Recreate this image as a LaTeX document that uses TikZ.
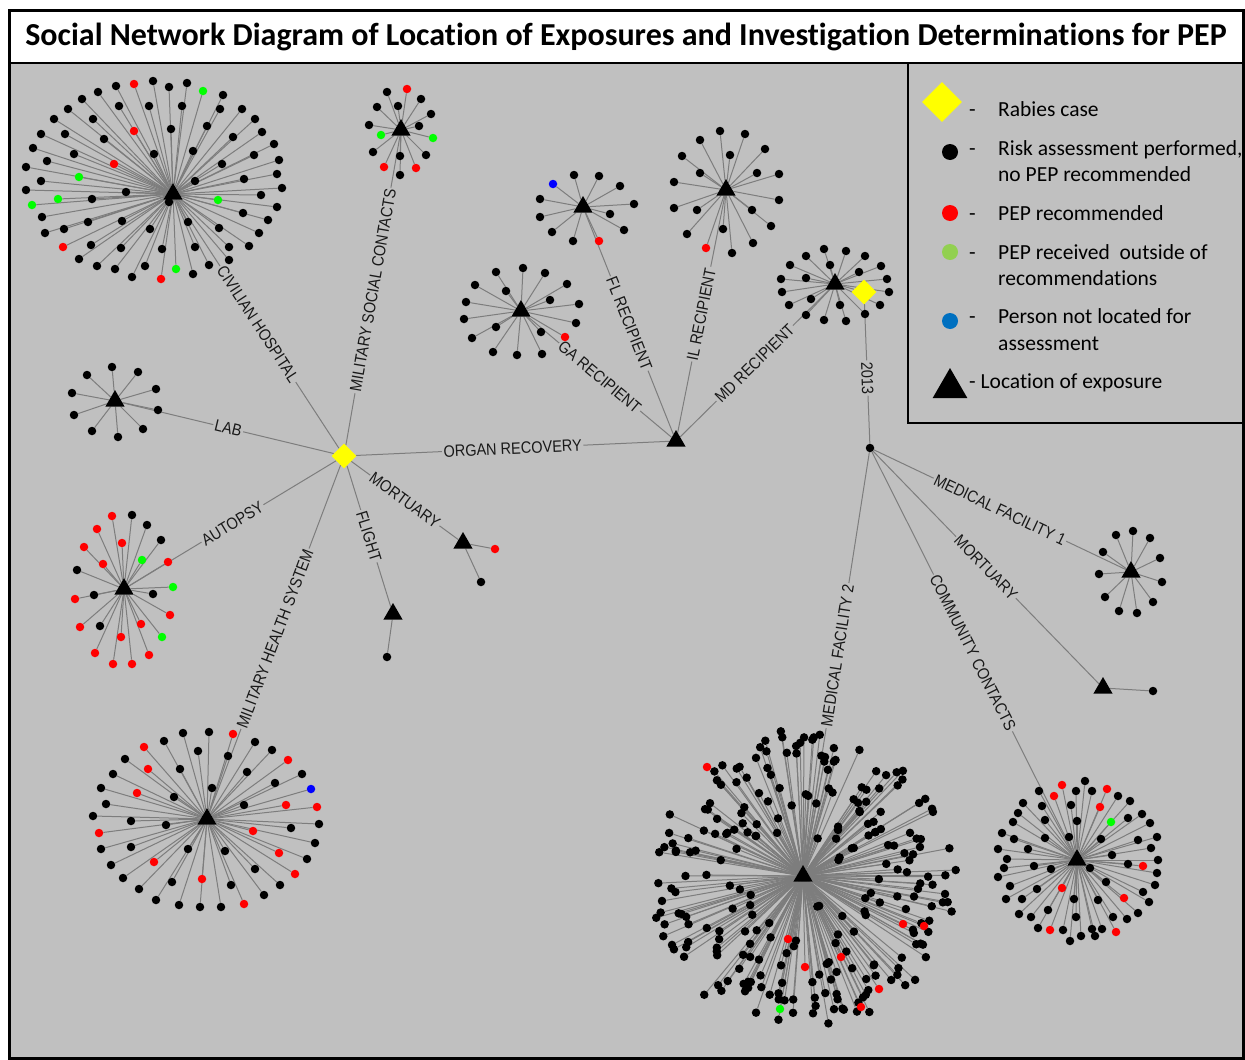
\documentclass[tikz,border=0pt]{standalone}
\usepackage{fontspec}
\setmainfont{Carlito}[Ligatures=NoCommon]
\newfontfamily\lblfont[FakeStretch=0.88]{Liberation Sans}
\usetikzlibrary{shapes.geometric}
\pgfdeclarelayer{background}
\pgfdeclarelayer{edges}
\pgfsetlayers{background,edges,main}
\definecolor{bggray}{RGB}{192,192,192}
\definecolor{spk}{RGB}{125,125,125}
\definecolor{lblc}{RGB}{25,25,25}
\definecolor{dk}{RGB}{0,0,0}
\definecolor{dr}{RGB}{255,0,0}
\definecolor{dg}{RGB}{0,255,0}
\definecolor{db}{RGB}{0,0,255}
\definecolor{lgreen}{RGB}{146,208,80}
\definecolor{lblue}{RGB}{0,112,192}
\definecolor{ryellow}{RGB}{255,255,0}
\tikzset{
  dot/.style={circle, inner sep=0pt, minimum size=8.5pt, fill=#1},
  hubtri/.style={regular polygon, regular polygon sides=3, fill=black, inner sep=0pt, minimum size=22pt},
  rabies/.style={diamond, fill=ryellow, inner sep=0pt, minimum size=25pt},
  spoke/.style={draw=spk, line width=1pt},
  link/.style={draw=spk, line width=1pt},
  lbl/.style={sloped, pos=0.5, fill=bggray, inner sep=1.5pt, text=lblc, font=\lblfont\fontsize{16.5}{16.5}\selectfont},
  legtxt/.style={anchor=base west, inner sep=0pt, font=\fontsize{21.5}{21.5}\selectfont},
}
\newcommand\mkcluster[2]{%
  \foreach \x/\y/\c [count=\i] in {#2} {
    \node[dot=d\c] (#1\i) at (\x,\y) {};
    \xdef\lastcount{\i}%
  }%
  \expandafter\xdef\csname cnt#1\endcsname{\lastcount}%
}
\begin{document}
\begin{tikzpicture}[x=1pt, y=-1pt]
\useasboundingbox (0,0) rectangle (1245,1060);
\begin{pgfonlayer}{background}
  \fill[white] (9,10) rectangle (1243,63);
  \fill[bggray] (9,63) rectangle (1243,1058);
\end{pgfonlayer}

% title
\node[font=\bfseries\fontsize{32}{32}\selectfont, inner sep=0pt] (title) at (626,37) {Social Network Diagram of Location of Exposures and Investigation Determinations for PEP};

% main nodes
\node[rabies] (D) at (344,456) {};
\node[hubtri] (CH) at (173,194) {};
\node[hubtri] (MSC) at (401,130) {};
\node[hubtri] (LAB) at (115,401) {};
\node[hubtri] (AUT) at (124,589) {};
\node[hubtri] (MHS) at (207,819) {};
\node[hubtri] (FLT) at (393,614) {};
\node[hubtri] (MOR1) at (463,543) {};
\node[hubtri] (ORG) at (676,441) {};
\node[hubtri] (GA) at (521,311) {};
\node[hubtri] (FL) at (583,207) {};
\node[hubtri] (IL) at (726,190) {};
\node[hubtri] (MD) at (835,284) {};
\node[rabies] (R2) at (864,292) {};
\node[dot=dk] (Y13) at (870,448) {};
\node[hubtri] (MF1) at (1131,572) {};
\node[hubtri] (MOR2) at (1103,688) {};
\node[hubtri] (CC) at (1077,860) {};

% small leaves
\mkcluster{ma}{495/549/r, 481/582/k}
\mkcluster{fa}{387/657/k}
\mkcluster{mb}{1153/691/k}

% civilian hospital
\mkcluster{ch}{116/86/k, 134/84/r, 153/81/k, 169/87/k, 187/83/k, 203/91/g, 223/95/k, 242/109/k, 255/119/k, 262/132/k, 274/144/k, 279/160/k, 277/174/k, 282/188/k, 277/207/k, 268/220/k, 259/233/k, 249/246/k, 229/260/k, 209/265/k, 193/274/k, 176/269/g, 161/279/r, 132/277/k, 115/269/k, 97/266/k, 79/259/k, 63/247/r, 45/233/k, 42/217/k, 32/205/g, 26/190/k, 41/181/k, 26/167/k, 33/148/k, 41/134/k, 54/119/k, 68/109/k, 82/99/k, 98/92/k, 119/106/k, 149/106/k, 182/106/k, 220/109/k, 207/126/k, 134/131/r, 171/129/k, 233/137/k, 254/155/k, 193/151/k, 154/154/k, 93/119/k, 65/134/k, 104/139/k, 74/154/k, 47/161/k, 114/164/r, 79/177/g, 222/164/k, 244/179/k, 195/181/k, 261/195/k, 126/192/k, 58/199/g, 92/199/k, 218/200/g, 169/202/k, 243/213/k, 188/222/k, 122/221/k, 88/222/k, 64/229/k, 150/229/k, 219/228/k, 229/247/k, 195/247/k, 162/249/k, 121/248/k, 91/245/k, 145/266/k}

% military social contacts
\mkcluster{ms}{387/92/k, 407/89/r, 421/99/k, 377/107/k, 398/106/k, 431/114/k, 369/125/k, 419/126/k, 381/135/g, 433/138/g, 373/152/k, 400/156/k, 426/155/k, 384/167/r, 416/168/r, 400/175/k}

% lab
\mkcluster{lb}{112/367/k, 87/375/k, 138/372/k, 72/393/k, 156/389/k, 74/415/k, 158/410/k, 92/431/k, 118/437/k, 143/429/k}

% autopsy
\mkcluster{au}{112/516/r, 132/515/k, 147/525/k, 97/529/r, 161/540/k, 122/543/r, 84/547/r, 103/564/r, 142/560/g, 168/562/r, 77/570/k, 173/587/g, 75/599/r, 94/595/k, 153/594/k, 170/615/r, 80/627/r, 100/626/k, 141/624/r, 162/637/g, 121/637/r, 95/653/r, 149/655/r, 113/664/r, 132/664/r}

% military health system
\mkcluster{mh}{183/733/k, 209/732/k, 233/734/r, 144/747/r, 164/741/k, 198/751/k, 255/742/k, 228/756/k, 272/750/k, 125/759/k, 148/769/r, 180/769/k, 288/760/r, 247/772/k, 113/774/k, 302/774/k, 275/783/k, 311/789/b, 212/788/k, 137/793/r, 101/788/k, 174/797/k, 106/804/k, 244/805/k, 286/805/r, 317/807/r, 93/816/k, 131/821/k, 166/825/k, 291/828/k, 319/824/k, 99/833/r, 253/831/r, 101/849/k, 131/847/k, 188/849/k, 225/851/k, 315/843/k, 279/853/r, 111/865/k, 154/862/r, 307/859/k, 255/869/k, 295/874/r, 123/878/k, 172/882/k, 202/879/r, 231/885/k, 280/885/k, 139/889/k, 264/895/k, 156/900/k, 179/905/k, 200/907/k, 221/907/k, 244/904/r}

% GA
\mkcluster{ga}{523/268/k, 496/272/k, 545/273/k, 475/285/k, 567/284/k, 506/291/k, 550/300/k, 466/302/k, 579/304/k, 464/319/k, 576/323/k, 496/327/k, 541/332/k, 565/337/r, 472/338/k, 493/352/k, 517/355/k, 542/354/k}

% FL
\mkcluster{fl}{553/184/b, 574/175/k, 599/176/k, 620/186/k, 540/199/k, 634/204/k, 610/214/k, 540/217/k, 552/232/k, 624/230/k, 573/241/k, 599/241/r}

% IL
\mkcluster{il}{720/131/k, 745/134/k, 700/140/k, 765/149/k, 730/155/k, 682/156/k, 700/173/k, 757/173/k, 779/174/k, 674/182/k, 779/200/k, 674/208/k, 697/210/k, 752/210/k, 771/226/k, 723/229/k, 687/234/k, 753/243/k, 706/248/r, 732/253/k}

% MD
\mkcluster{md}{824/249/k, 846/251/k, 806/256/k, 865/256/k, 830/265/k, 790/265/k, 881/266/k, 859/272/k, 806/278/k, 781/279/k, 887/279/k, 782/292/k, 889/292/k, 811/299/k, 789/305/k, 840/305/k, 880/305/k, 806/315/k, 824/320/k, 846/321/k, 865/314/k}

% medical facility 1
\mkcluster{mfa}{1133/531/k, 1116/535/k, 1150/538/k, 1103/552/k, 1160/558/k, 1099/574/k, 1162/582/k, 1105/597/k, 1153/602/k, 1119/611/k, 1137/613/k}

% community contacts
\mkcluster{cc}{1085/781/k, 1062/785/r, 1107/789/r, 1039/791/k, 1076/791/k, 1092/791/k, 1054/796/r, 1118/796/k, 1100/807/r, 1023/803/k, 1042/806/k, 1071/805/k, 1130/801/k, 1018/813/k, 1142/814/k, 1128/818/k, 1077/821/k, 1111/822/g, 1045/820/k, 1013/822/k, 1150/823/k, 1002/833/k, 1045/838/k, 1069/837/k, 1101/839/k, 1138/840/k, 1157/837/k, 1014/839/k, 998/849/k, 1028/849/k, 1151/848/k, 1112/855/k, 1007/859/k, 1158/860/k, 1004/868/k, 1034/866/k, 1051/869/k, 1090/868/k, 1128/864/k, 1143/866/r, 1157/873/k, 998/877/k, 1106/882/k, 1155/885/k, 1010/886/k, 1037/889/k, 1062/888/r, 1143/892/k, 1006/899/k, 1022/899/k, 1074/899/k, 1098/900/k, 1124/898/r, 1149/902/k, 1048/910/k, 1019/914/k, 1031/917/k, 1076/917/k, 1113/917/k, 1127/919/k, 1138/913/k, 1038/928/k, 1050/930/r, 1063/930/k, 1092/929/k, 1102/929/k, 1116/932/r, 1070/941/k, 1081/936/k, 1095/936/k}

% medical facility 2 (dense)
\pgfmathsetseed{4242}
\foreach \i in {1,...,250} {
  \pgfmathsetmacro\ang{rnd*360}
  \pgfmathsetmacro\rr{0.16+0.84*pow(rnd,0.38)}
  \pgfmathsetmacro\wob{0.93+0.08*rnd}
  \pgfmathsetmacro\px{803+156*\wob*\rr*cos(\ang)}
  \pgfmathsetmacro\py{880+150*\wob*\rr*sin(\ang)}
  \node[dot=dk] (mfb\i) at (\px,\py) {};
}
\expandafter\xdef\csname cntmfb\endcsname{250}
\mkcluster{mfc}{707/767/r, 903/924/r, 924/926/r, 788/939/r, 841/957/r, 805/967/r, 879/989/r, 861/1007/r, 780/1009/g}
\node[hubtri] (MF2) at (803,876) {};

% all connectors, drawn beneath the nodes
\begin{pgfonlayer}{edges}
\draw[link] (D) -- node[lbl] {CIVILIAN HOSPITAL} (CH);
\draw[link] (D) -- node[lbl] {MILITARY SOCIAL CONTACTS} (MSC);
\draw[link] (D) -- node[lbl] {LAB} (LAB);
\draw[link] (D) -- node[lbl] {AUTOPSY} (AUT);
\draw[link] (D) -- node[lbl] {MILITARY HEALTH SYSTEM} (MHS);
\draw[link] (D) -- node[lbl] {FLIGHT} (FLT);
\draw[link] (D) -- node[lbl] {MORTUARY} (MOR1);
\draw[link] (D) -- node[lbl] {ORGAN RECOVERY} (ORG);
\draw[link] (ORG) -- node[lbl] {GA RECIPIENT} (GA);
\draw[link] (ORG) -- node[lbl] {FL RECIPIENT} (FL);
\draw[link] (ORG) -- node[lbl] {IL RECIPIENT} (IL);
\draw[link] (ORG) -- node[lbl] {MD RECIPIENT} (MD);
\draw[link] (MD) -- (R2);
\draw[link] (R2) -- node[lbl, pos=0.53] {2013} (Y13);
\draw[link] (Y13) -- node[lbl] {MEDICAL FACILITY 1} (MF1);
\draw[link] (Y13) -- node[lbl] {MORTUARY} (MOR2);
\draw[link] (Y13) -- node[lbl] {COMMUNITY CONTACTS} (CC);
\draw[link] (Y13) -- node[lbl, pos=0.49] {MEDICAL FACILITY 2} (MF2);
\foreach \p/\h in {ma/MOR1, fa/FLT, mb/MOR2, ch/CH, ms/MSC, lb/LAB, au/AUT, mh/MHS, ga/GA, fl/FL, il/IL, md/MD, mfa/MF1, cc/CC, mfb/MF2, mfc/MF2} {
  \pgfmathtruncatemacro\nn{\csname cnt\p\endcsname}
  \foreach \i in {1,...,\nn} { \draw[spoke] (\h) -- (\p\i); }
}
\end{pgfonlayer}

% legend
\node[rabies, minimum size=40pt] (lg1) at (942,102) {};
\node[legtxt] (lg1d) at (969,116) {-};
\node[legtxt] (lg1t) at (998,116) {Rabies case};
\node[dot=black, minimum size=16pt] (lg2) at (950,152) {};
\node[legtxt] (lg2d) at (969,155) {-};
\node[legtxt] (lg2t) at (998,155) {Risk assessment performed,};
\node[legtxt] (lg2u) at (998,181) {no PEP recommended};
\node[dot=dr, minimum size=16pt] (lg3) at (950,213) {};
\node[legtxt] (lg3d) at (969,220) {-};
\node[legtxt] (lg3t) at (998,220) {PEP recommended};
\node[dot=lgreen, minimum size=16pt] (lg4) at (950,252) {};
\node[legtxt] (lg4d) at (969,259) {-};
\node[legtxt] (lg4t) at (998,259) {PEP received\ \ outside of};
\node[legtxt] (lg4u) at (998,285) {recommendations};
\node[dot=lblue, minimum size=16pt] (lg5) at (950,321) {};
\node[legtxt] (lg5d) at (969,323) {-};
\node[legtxt] (lg5t) at (998,323) {Person not located for};
\node[legtxt] (lg5u) at (998,350) {assessment};
\node[regular polygon, regular polygon sides=3, fill=black, inner sep=0pt, minimum size=40pt] (lg6) at (950,388) {};
\node[legtxt] (lg6t) at (969,388) {- Location of exposure};

% frames
\draw[line width=2pt] (908,63) rectangle (1243,423);
\draw[line width=2pt] (9,63) -- (1243,63);
\draw[line width=3pt] (9,10) rectangle (1243,1058);
\end{tikzpicture}
\end{document}
